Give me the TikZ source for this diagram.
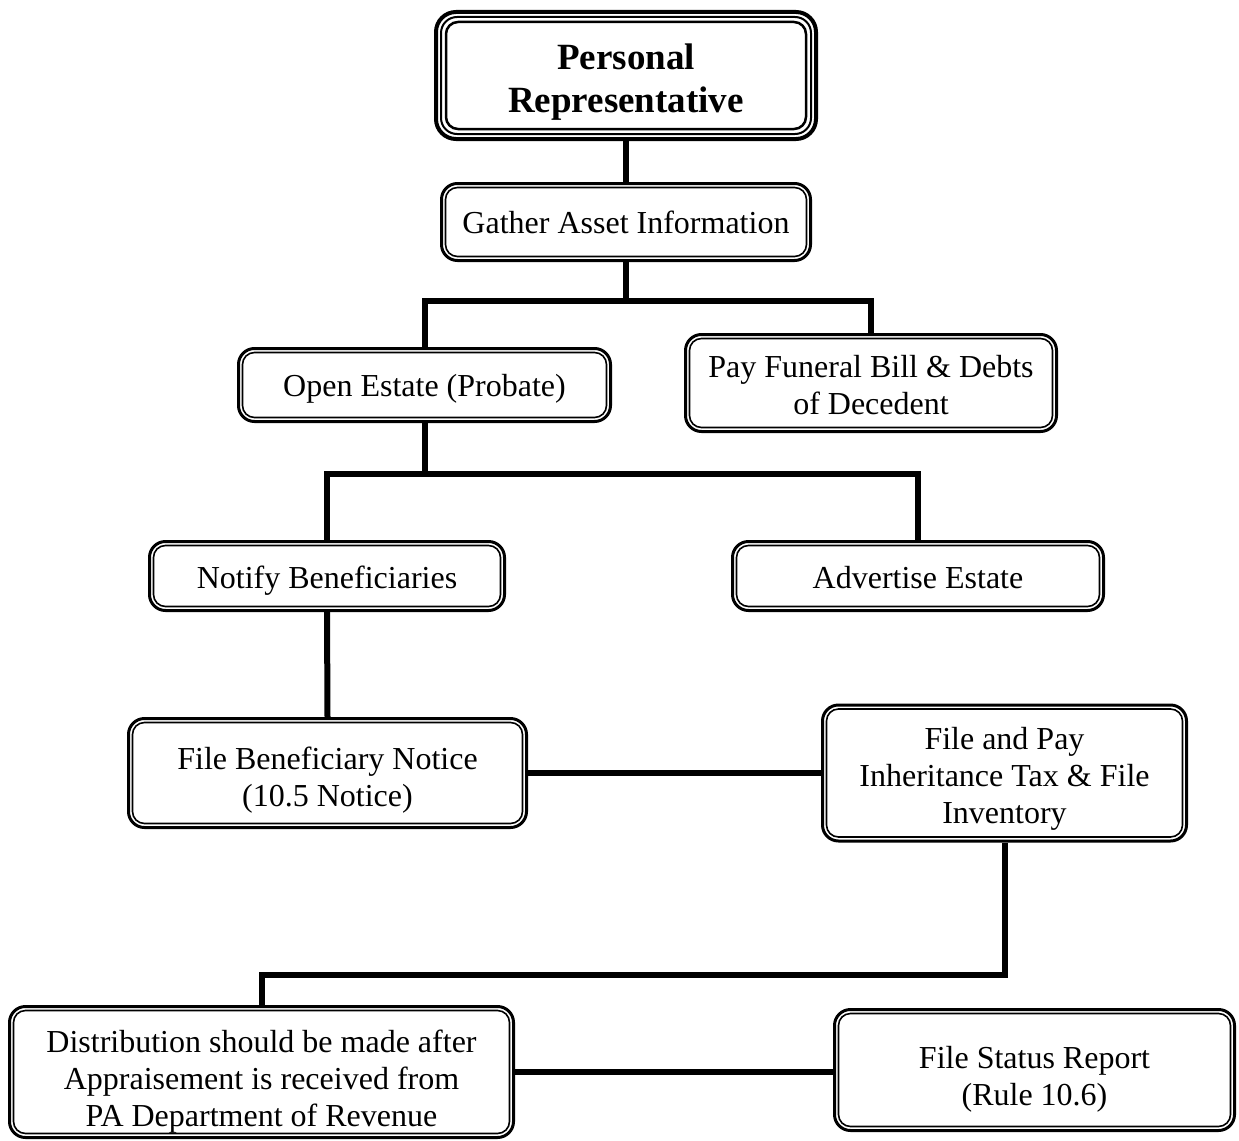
\documentclass[tikz,border=0pt]{standalone}
\usepackage{fontspec}
\setmainfont{Liberation Serif}
\usetikzlibrary{calc}

% box text, set a little low in its box as in the original
\newcommand\lowtext[2]{\raisebox{-#1}[\height][\depth]{\begin{tabular}{@{}c@{}}#2\end{tabular}}}

\tikzset{
  box/.style={draw, line width=3pt, rounded corners=16pt,
    inner sep=0pt, font=\fontsize{32}{37}\selectfont},
  topbox/.style={box, line width=4pt, rounded corners=20pt,
    font=\fontsize{37}{43}\selectfont\bfseries},
  inner/.style={line width=1.6pt, rounded corners=12pt},
  link/.style={line width=6pt},
}

\begin{document}
\begin{tikzpicture}[x=1pt,y=-1pt]
    \useasboundingbox (0,0) rectangle (1239,1140);

    % boxes
    \node[topbox, minimum width=380pt, minimum height=127pt] (rep)     at (626,75.5)   {\lowtext{7pt}{Personal\\Representative}};
    \node[box, minimum width=369pt, minimum height=77pt]  (gather)  at (626,222)    {\lowtext{4pt}{Gather Asset Information}};
    \node[box, minimum width=372pt, minimum height=73pt]  (open)    at (424.5,385)  {\lowtext{4pt}{Open Estate (Probate)}};
    \node[box, minimum width=371pt, minimum height=97pt]  (pay)     at (871,383)    {\lowtext{6pt}{Pay Funeral Bill \& Debts\\of Decedent}};
    \node[box, minimum width=355pt, minimum height=69pt]  (notify)  at (327,576)    {\lowtext{5pt}{Notify Beneficiaries}};
    \node[box, minimum width=371pt, minimum height=69pt]  (advert)  at (918,576)    {\lowtext{5pt}{Advertise Estate}};
    \node[box, minimum width=398pt, minimum height=109pt] (filebn)  at (327.5,773)  {\lowtext{8pt}{File Beneficiary Notice\\(10.5 Notice)}};
    \node[box, minimum width=364pt, minimum height=136pt] (filetax) at (1004.5,773) {\lowtext{6pt}{File and Pay\\Inheritance Tax \& File\\Inventory}};
    \node[box, minimum width=504pt, minimum height=131pt] (distrib) at (261.5,1072) {\lowtext{10pt}{Distribution should be made after\\Appraisement is received from\\PA Department of Revenue}};
    \node[box, minimum width=400pt, minimum height=121pt] (status)  at (1034.5,1070) {\lowtext{10pt}{File Status Report\\(Rule 10.6)}};

    % inner lines of the double borders
    \foreach \n in {gather,open,pay,notify,advert,filebn,filetax,distrib,status}
        \draw[inner] ($(\n.south west)+(5.5pt,5.5pt)$) rectangle ($(\n.north east)-(5.5pt,5.5pt)$);
    \draw[inner, line width=2pt, rounded corners=16pt] ($(rep.south west)+(7pt,7pt)$) rectangle ($(rep.north east)-(7pt,7pt)$);
    \draw[inner, line width=2.5pt, rounded corners=12pt] ($(rep.south west)+(12pt,12pt)$) rectangle ($(rep.north east)-(12pt,12pt)$);

    % connectors
    \draw[link] (rep.south) -- (gather.north);
    \draw[link] (gather.south) -- ++(0,39) coordinate (j1);
    \draw[link] (open.north) |- (j1) -| (pay.north);
    \draw[link] (open.south) -- ++(0,51) coordinate (j2);
    \draw[link] (notify.north) |- (j2) -| (advert.north);
    \draw[link] (notify.south) -- (filebn.north);
    \draw[link] (filebn.east) -- (filetax.west);
    \draw[link] (filetax.south) -- ++(0,132) coordinate (j3) -| (distrib.north);
    \draw[link] (distrib.east) -- (distrib.east -| status.west);
\end{tikzpicture}
\end{document}
